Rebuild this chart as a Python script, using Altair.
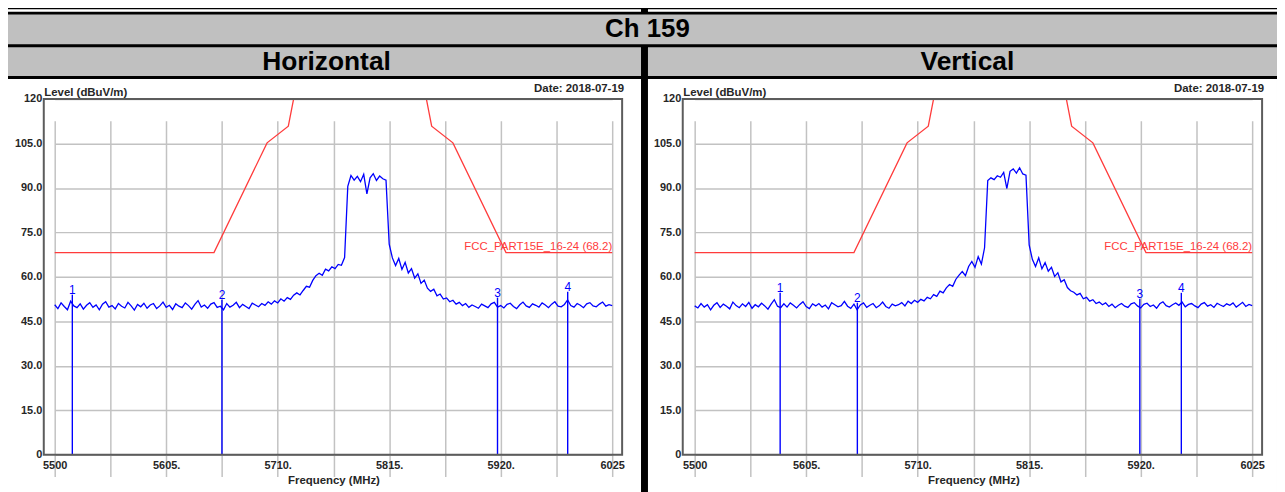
import altair as alt
import pandas as pd

# ---------------- data ----------------
HEADER = "Ch 159"
POLARIZATIONS = ["Horizontal", "Vertical"]
DATE_TEXT = "Date: 2018-07-19"
Y_TITLE = "Level (dBuV/m)"
X_TITLE = "Frequency (MHz)"

FREQ_START = 5500
FREQ_STEP = 3  # sweep sample spacing (MHz)

# Horizontal trace, 8 samples per row (24 MHz per row)
H_LEVEL = [
    50.6, 49.3, 51.2, 50.0, 48.9, 51.8, 50.2, 49.6,   # 5500-5521
    50.9, 49.1, 50.4, 51.3, 49.7, 50.5, 48.9, 50.8,   # 5524-5545
    51.6, 49.8, 50.3, 49.2, 51.0, 50.1, 49.5, 51.4,   # 5548-5569
    50.2, 48.8, 50.7, 49.9, 51.1, 49.4, 50.5, 51.0,   # 5572-5593
    49.3, 50.2, 51.5, 49.7, 50.4, 49.0, 50.9, 50.1,   # 5596-5617
    49.6, 51.2, 50.3, 49.1, 50.7, 52.0, 49.8, 50.5,   # 5620-5641
    49.4, 50.8, 51.3, 49.7, 50.1, 48.9, 51.0, 49.8,   # 5644-5665
    50.4, 51.4, 49.6, 50.7, 50.0, 49.3, 51.1, 50.5,   # 5668-5689
    49.9, 51.0, 50.4, 51.6, 50.8, 51.9, 51.2, 52.6,   # 5692-5713
    51.8, 53.0, 52.4, 53.8, 54.6, 53.9, 55.4, 56.8,   # 5716-5737
    56.5, 58.8, 60.4, 61.2, 60.5, 62.6, 62.0, 63.4,   # 5740-5761
    62.8, 64.2, 63.9, 66.5, 90.5, 94.2, 92.6, 93.9,   # 5764-5785
    92.1, 94.6, 88.0, 93.4, 94.8, 92.5, 94.0, 93.1,   # 5788-5809
    92.6, 71.0, 66.4, 63.8, 66.2, 62.5, 64.9, 61.3,   # 5812-5833
    62.8, 59.6, 61.0, 57.8, 58.9, 56.2, 55.1, 55.8,   # 5836-5857
    53.6, 54.2, 52.5, 52.9, 51.6, 52.1, 50.8, 51.4,   # 5860-5881
    50.3, 51.0, 49.7, 50.5, 50.0, 49.4, 50.8, 50.2,   # 5884-5905
    49.6, 50.9, 51.4, 49.8, 50.3, 49.5, 50.7, 51.1,   # 5908-5929
    50.0, 49.3, 50.6, 51.5, 50.2, 49.7, 50.9, 50.4,   # 5932-5953
    49.8, 51.2, 50.5, 49.6, 50.8, 51.6, 50.1, 49.9,   # 5956-5977
    50.7, 52.2, 50.3, 49.8, 51.0, 50.4, 49.6, 50.9,   # 5980-6001
    51.3, 50.2, 49.9, 50.8, 51.5, 50.1, 50.6, 50.3,   # 6004-6025
]

# Vertical trace
V_LEVEL = [
    50.2, 49.5, 51.0, 49.8, 50.6, 48.9, 50.4, 51.3,   # 5500-5521
    49.7, 50.8, 50.1, 49.2, 51.5, 50.3, 49.6, 50.9,   # 5524-5545
    50.0, 51.4, 49.4, 50.6, 49.9, 51.1, 50.2, 49.1,   # 5548-5569
    50.8, 52.3, 50.1, 49.6, 50.9, 49.8, 51.2, 50.4,   # 5572-5593
    49.5, 50.7, 51.6, 50.0, 49.3, 50.9, 50.2, 51.0,   # 5596-5617
    49.8, 50.5, 49.2, 51.3, 50.6, 49.9, 50.3, 51.7,   # 5620-5641
    50.1, 49.4, 50.8, 48.9, 50.5, 51.2, 49.7, 50.4,   # 5644-5665
    51.0, 49.6, 50.3, 51.5, 50.0, 49.4, 50.8, 50.2,   # 5668-5689
    50.6, 51.3, 50.2, 51.8, 51.0, 52.1, 51.4, 52.4,   # 5692-5713
    51.9, 53.1, 52.6, 54.0, 53.4, 55.2, 54.6, 56.3,   # 5716-5737
    57.4, 56.8, 59.2, 60.6, 61.8, 60.4, 63.5, 65.2,   # 5740-5761
    63.2, 66.8, 64.3, 69.8, 92.5, 93.4, 92.8, 94.1,   # 5764-5785
    93.6, 95.2, 89.8, 95.6, 96.4, 95.0, 96.8, 94.7,   # 5788-5809
    94.3, 70.8, 65.9, 63.5, 66.4, 62.7, 64.8, 61.9,   # 5812-5833
    63.2, 60.1, 61.4, 58.3, 59.0, 56.4, 55.3, 54.8,   # 5836-5857
    53.9, 54.4, 52.6, 53.1, 51.8, 52.3, 51.0, 51.5,   # 5860-5881
    50.6, 51.2, 50.0, 50.8, 49.6, 50.4, 51.0, 50.1,   # 5884-5905
    49.7, 50.9, 51.3, 50.2, 49.5, 50.7, 51.1, 50.0,   # 5908-5929
    50.5, 49.4, 50.9, 51.6, 50.3, 49.8, 50.6, 51.2,   # 5932-5953
    50.4, 51.5, 49.9, 50.7, 51.0, 50.2, 49.6, 50.8,   # 5956-5977
    51.3, 50.1, 50.6, 49.7, 51.1, 50.5, 50.0, 50.9,   # 5980-6001
    50.4, 51.2, 49.8, 50.6, 51.4, 50.0, 50.7, 50.3,   # 6004-6025
]

LIMIT_FREQ = [5500, 5650, 5700, 5720, 5725, 5850, 5855, 5875, 5925, 6025]
LIMIT_LEVEL = [68.2, 68.2, 105.2, 110.8, 122.2, 122.2, 110.8, 105.2, 68.2, 68.2]
LIMIT_NAME = "FCC_PART15E_16-24 (68.2)"

MARKER_ID = ["1", "2", "3", "4"]
H_MARK_FREQ = [5516.6, 5657.5, 5917.0, 5983.1]
H_MARK_LEVEL = [54.0, 52.3, 53.0, 55.0]
V_MARK_FREQ = [5580.5, 5653.2, 5919.2, 5958.3]
V_MARK_LEVEL = [54.6, 51.3, 52.6, 54.6]

X_DOMAIN = [5500, 6025]
X_GRID = [5500, 5552.5, 5605, 5657.5, 5710, 5762.5, 5815, 5867.5, 5920, 5972.5, 6025]
X_LABELS = ["5500", "", "5605.", "", "5710.", "", "5815.", "", "5920.", "", "6025"]
Y_DOMAIN = [0, 120]
Y_GRID = [0, 15, 30, 45, 60, 75, 90, 105, 120]
Y_LABELS = ["0", "15.0", "30.0", "45.0", "60.0", "75.0", "90.0", "105.0", "120"]

# ---------------- style / layout ----------------
FONT = "Liberation Sans"
TXT = "#262626"
GRID = "#c2c2c2"
BLUE = "#0000ff"
RED = "#ff3b3b"
GRAY = "#c0c0c0"

CELL_H = 420          # runs a little past the bottom of the window, as in the picture
PLOT_TOP, PLOT_BOTTOM = 20, 378
FRAME_RIGHT = 618
X_PIX = [47, 608]


def lab_expr(vals, labels):
    e = "''"
    for v, l in reversed(list(zip(vals, labels))):
        e = f"abs(datum.value - {v}) < 0.01 ? '{l}' : ({e})"
    return e


def panel(levels, mfreq, mlevel, cell_w, frame_left):
    trace = pd.DataFrame({
        "freq": [FREQ_START + FREQ_STEP * i for i in range(len(levels))],
        "level": levels,
    })
    limit = pd.DataFrame({"freq": LIMIT_FREQ, "level": LIMIT_LEVEL})
    marks = pd.DataFrame({"freq": mfreq, "level": mlevel, "id": MARKER_ID})

    xs = alt.Scale(domain=X_DOMAIN, range=X_PIX, nice=False, zero=False)
    ys = alt.Scale(domain=Y_DOMAIN, range=[PLOT_BOTTOM, PLOT_TOP],
                   nice=False, zero=False, clamp=True)
    xaxis = alt.Axis(
        values=X_GRID, labelExpr=lab_expr(X_GRID, X_LABELS), labelOverlap=False,
        labelFlush=False, grid=True, gridColor=GRID, gridWidth=1.5, ticks=False,
        domain=False, labelFont=FONT, labelFontSize=11, labelFontWeight="bold",
        labelColor=TXT, labelPadding=5, labelAngle=0,
        offset=-(CELL_H - PLOT_BOTTOM),
        title=X_TITLE, titleFont=FONT, titleFontSize=11.5, titleFontWeight="bold",
        titleColor=TXT, titlePadding=4,
    )
    yaxis = alt.Axis(
        values=Y_GRID, labelExpr=lab_expr(Y_GRID, Y_LABELS), labelOverlap=False,
        labelFlush=False, grid=True, gridColor=GRID, gridWidth=1.5, ticks=False,
        domain=False, labelFont=FONT, labelFontSize=11, labelFontWeight="bold",
        labelColor=TXT, labelPadding=2, offset=-frame_left,
        title=Y_TITLE, titleFont=FONT, titleFontSize=11.5, titleFontWeight="bold",
        titleColor=TXT, titleAngle=0, titleAlign="left", titleBaseline="alphabetic",
        titleX=0, titleY=PLOT_TOP - 3.5,
    )

    limit_line = alt.Chart(limit).mark_line(color=RED, strokeWidth=1.3).encode(
        x=alt.X("freq:Q", scale=xs, axis=xaxis),
        y=alt.Y("level:Q", scale=ys, axis=yaxis),
    )
    trace_line = alt.Chart(trace).mark_line(color=BLUE, strokeWidth=1.3).encode(
        x=alt.X("freq:Q", scale=xs), y=alt.Y("level:Q", scale=ys)
    )
    marker_rules = alt.Chart(marks).mark_rule(color=BLUE, strokeWidth=1.4).encode(
        x=alt.X("freq:Q", scale=xs), y=alt.Y("level:Q", scale=ys), y2=alt.datum(0)
    )
    marker_text = alt.Chart(marks).mark_text(
        color=BLUE, font=FONT, fontSize=12, baseline="alphabetic", dy=-1
    ).encode(x=alt.X("freq:Q", scale=xs), y=alt.Y("level:Q", scale=ys), text="id:N")
    limit_text = alt.Chart(pd.DataFrame({"name": [LIMIT_NAME]})).mark_text(
        color=RED, font=FONT, fontSize=11.5, align="right", baseline="alphabetic", dy=-3
    ).encode(x=alt.datum(X_DOMAIN[1]), y=alt.datum(LIMIT_LEVEL[-1]), text="name:N")
    frame = alt.Chart(pd.DataFrame({"k": [0]})).mark_rect(
        filled=False, stroke="#5c5c5c", strokeWidth=2
    ).encode(x=alt.value(frame_left), x2=alt.value(FRAME_RIGHT),
             y=alt.value(PLOT_TOP), y2=alt.value(PLOT_BOTTOM))
    date = alt.Chart(pd.DataFrame({"d": [DATE_TEXT]})).mark_text(
        font=FONT, fontSize=11.5, fontWeight="bold", color=TXT,
        align="right", baseline="middle"
    ).encode(x=alt.value(FRAME_RIGHT + 2), y=alt.value(10), text="d:N")

    return alt.layer(limit_line, trace_line, marker_rules, marker_text,
                     limit_text, frame, date).properties(width=cell_w, height=CELL_H)


def header(text, w, h, size, shift):
    return alt.Chart(pd.DataFrame({"t": [text]})).mark_text(
        font=FONT, fontSize=size, fontWeight="bold", color="black",
        align="center", baseline="middle", dx=shift
    ).encode(x=alt.value(w / 2), y=alt.value(h / 2), text="t:N").properties(
        width=w, height=h, view=alt.ViewBackground(fill=GRAY, strokeWidth=0)
    )


def strip(w):
    # thin white remainder of the table row above (cut off in the picture)
    return alt.Chart(pd.DataFrame({"k": [0]})).mark_rect(
        color="white", strokeWidth=0
    ).encode(x=alt.value(0), x2=alt.value(w), y=alt.value(0), y2=alt.value(2)
    ).properties(width=w, height=2)


LEFT_W, RIGHT_W = 637, 633

row0 = alt.hconcat(strip(LEFT_W), strip(RIGHT_W), spacing=7)
row1 = header(HEADER, LEFT_W + RIGHT_W + 7, 30, 26, 5)
row2 = alt.hconcat(header(POLARIZATIONS[0], LEFT_W, 29, 26.5, 2),
                   header(POLARIZATIONS[1], RIGHT_W, 29, 26.5, 5), spacing=7)
row3 = alt.hconcat(
    panel(H_LEVEL, H_MARK_FREQ, H_MARK_LEVEL, LEFT_W, 36),
    panel(V_LEVEL, V_MARK_FREQ, V_MARK_LEVEL, RIGHT_W, 35),
    spacing=7,
)

chart = alt.vconcat(row0, row1, row2, row3, spacing=3).properties(
    background="black", padding=0
).configure_view(fill="white", strokeWidth=0)

chart.save("out.html", embed_options={"renderer": "svg", "actions": False})
